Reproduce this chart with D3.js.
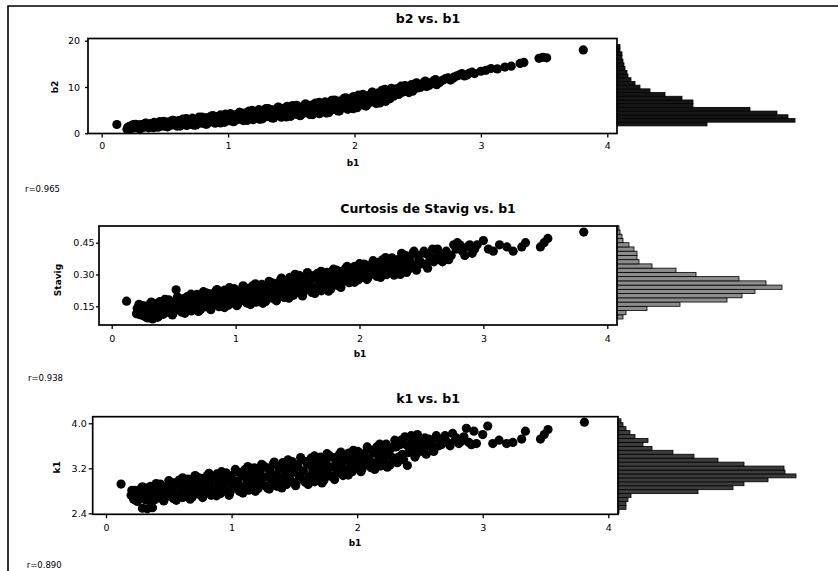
<!DOCTYPE html>
<html><head><meta charset="utf-8">
<script src="https://cdn.jsdelivr.net/npm/d3@7"></script>
<style>body{margin:0;background:#fff} svg{display:block}</style>
</head><body>
<svg id="c" width="838" height="571"></svg>
<script>
// ---------- data ----------
const b1 = [0.20,0.22,0.23,0.25,0.26,0.28,0.29,0.31,0.32,0.34,0.35,0.37,0.38,0.40,0.41,0.43,0.44,0.46,0.47,0.49,0.50,
0.52,0.53,0.55,0.56,0.58,0.59,0.61,0.62,0.64,0.65,0.67,0.68,0.70,0.71,0.73,0.74,
0.76,0.77,0.79,0.80,0.82,0.83,0.85,0.86,0.88,0.89,0.91,0.92,0.94,0.95,0.97,0.98,1.00,
1.01,1.03,1.04,1.06,1.07,1.09,1.10,1.12,1.13,1.15,1.16,1.18,1.19,1.21,1.22,1.24,
1.25,1.27,1.28,1.30,1.31,1.33,1.34,1.36,1.37,1.39,1.40,1.42,1.43,1.45,1.46,1.48,1.49,
1.51,1.52,1.54,1.55,1.57,1.58,1.60,1.61,1.63,1.64,1.66,1.67,1.69,1.70,1.72,1.73,
1.75,1.76,1.78,1.79,1.81,1.82,1.84,1.85,1.87,1.88,1.90,1.91,1.93,1.94,1.96,1.97,1.99,
2.00,2.02,2.03,2.05,2.06,2.08,2.09,2.11,2.12,2.14,2.15,2.17,2.18,2.20,2.21,2.23,2.24,
2.26,2.28,2.30,
2.32,2.34,2.36,2.38,2.40,2.42,2.44,2.46,2.48,2.50,2.53,2.55,2.57,2.60,2.63,2.65,2.68,2.72,2.76,2.79,
2.83,2.87,2.91,2.95,3.00,3.04,3.08,3.13,3.19,3.24,3.31,3.34,3.46,3.49,3.52,3.81,
0.12,0.29,0.33,0.37,0.52,
0.206,0.223,0.236,0.253,0.268,0.281,0.297,0.313,0.326,0.343,0.357,0.371,0.388,0.402,0.416,0.433,0.447,0.462,0.478,0.491,
0.507,0.521,0.538,0.552,0.566,0.583,0.597,0.611,0.628,0.642,0.656,0.673,0.687,0.702,0.718,0.731,0.746,
0.762,0.777,0.793,0.807,0.821,0.838,0.852,0.866,0.883,0.897,0.912,0.928,0.941,0.956,0.972,0.987,
1.002,1.018,1.032,1.047,1.063,1.077,1.092,1.108,1.121,1.137,1.153,1.166,1.182,1.197,1.212,1.226,1.243,
1.257,1.272,1.286,1.302,1.317,1.331,1.348,1.362,1.376,1.393,1.407,1.422,1.438,1.451,1.467,1.482,1.496,
1.513,1.527,1.542,1.558,1.571,1.587,1.602,1.616,1.633,1.647,1.661,1.678,1.692,1.707,1.723,1.736,
1.752,1.768,1.782,1.797,1.813,1.826,1.842,1.857,1.871,1.888,1.902,1.917,1.933,1.946,1.961,1.977,1.992,
2.006,2.021,2.037,2.051,2.066,2.082,2.096,2.111,2.127,2.141,2.156,2.172,2.186,2.201,2.217,2.231,2.246,
2.262,2.277,2.292,
2.31,2.33,2.35,2.37,2.39,2.41,2.43,2.45,2.47,2.49,2.52,2.54,2.56,2.59,2.61,2.64,2.67,2.70,2.74,2.78,2.81,2.85,2.89,2.93];

const b2 = [0.85,1.50,1.21,1.90,1.44,1.16,1.85,1.05,1.75,1.45,2.19,1.70,1.35,2.15,1.21,2.04,1.66,2.51,1.93,1.57,2.42,
1.40,2.29,1.90,2.82,2.19,1.76,2.73,1.57,2.58,2.11,3.17,2.43,1.96,3.02,1.76,2.85,
2.36,3.48,2.71,2.19,3.36,1.98,3.16,2.63,3.82,2.99,2.47,3.66,2.25,3.45,2.92,4.13,3.30,
2.72,4.01,2.50,3.81,3.20,4.55,3.62,3.02,4.38,2.77,4.15,3.54,4.95,3.97,3.29,4.78,
3.02,4.52,3.82,5.34,4.27,3.58,5.09,3.29,4.82,4.11,5.65,4.58,3.84,5.43,3.54,5.13,4.38,
6.00,4.86,4.12,5.73,3.80,5.42,4.68,6.32,5.16,4.37,6.07,4.05,5.74,4.95,6.67,5.44,
4.66,6.39,4.37,6.12,5.36,7.13,5.93,5.12,6.95,4.82,6.66,5.83,7.68,6.41,5.62,7.45,5.30,
7.15,6.37,8.23,7.00,6.16,8.08,5.89,7.81,6.97,8.89,7.60,6.82,8.68,6.55,8.41,7.63,9.49,
8.26,7.47,9.37,
9.2,8.6,9.9,8.9,10.3,9.4,10.0,9.1,10.6,9.8,10.4,11.0,10.1,10.8,11.4,10.5,11.2,11.8,11.5,12.2,
12.6,12.4,13.0,12.9,13.4,13.6,14.0,13.9,14.3,14.5,15.1,15.3,16.2,16.4,16.3,18.0,
1.9,1.2,1.3,1.4,2.4,
1.31,0.90,1.65,1.14,1.93,1.49,1.05,1.86,1.29,2.15,1.67,1.18,2.07,1.44,2.35,1.84,1.31,2.26,1.59,2.57,
2.02,1.43,2.47,1.74,2.81,2.20,1.56,2.68,1.89,3.04,2.37,1.70,2.89,2.03,3.27,2.55,1.82,
3.10,2.21,3.51,2.76,2.00,3.34,2.40,3.74,2.97,2.18,3.55,2.60,3.97,3.18,2.37,3.78,
2.79,4.23,3.40,2.56,4.05,3.00,4.51,3.65,2.74,4.32,3.21,4.80,3.88,2.93,4.59,3.41,5.10,
4.12,3.12,4.83,3.62,5.35,4.33,3.30,5.05,3.80,5.58,4.54,3.49,5.29,4.00,5.82,4.75,3.67,
5.52,4.20,6.06,4.96,3.86,5.73,4.39,6.28,5.17,4.04,5.96,4.59,6.53,5.38,4.22,6.18,
4.78,6.80,5.65,4.51,6.54,5.12,7.18,6.01,4.83,6.92,5.46,7.56,6.38,5.17,7.28,5.82,7.95,
6.74,5.54,7.70,6.23,8.39,7.19,5.99,8.15,6.68,8.84,7.64,6.44,8.60,7.13,9.29,8.09,6.89,
9.05,7.58,9.71,
8.0,9.6,8.4,10.2,9.0,9.8,8.8,10.5,9.5,10.9,9.9,10.7,11.3,10.3,11.0,11.6,10.9,11.5,12.0,11.9,12.4,12.9,12.6,13.2];

const stavig = [.115,.159,.127,.107,.152,.098,.143,.122,.170,.137,.113,.164,.103,.155,.129,.183,.145,.121,.173,.109,.164,
.139,.194,.155,.128,.186,.117,.175,.148,.207,.165,.138,.197,.126,.186,.158,.219,
.176,.147,.209,.134,.196,.167,.229,.185,.156,.217,.144,.205,.177,.238,.194,.165,.227,
.153,.214,.185,.247,.202,.172,.235,.158,.222,.192,.256,.210,.179,.244,.164,.230,
.199,.268,.219,.188,.258,.176,.245,.213,.283,.234,.201,.274,.188,.261,.226,.301,.249,
.215,.288,.199,.272,.238,.309,.258,.224,.295,.210,.280,.247,.315,.266,.234,.301,
.221,.288,.259,.325,.280,.249,.315,.239,.304,.276,.338,.296,.270,.329,.263,.319,.294,
.351,.312,.286,.344,.276,.334,.307,.365,.324,.298,.357,.286,.347,.319,.380,.338,.309,
.371,.297,.359,
.33,.40,.36,.31,.38,.34,.41,.32,.37,.35,.40,.33,.38,.36,.42,.37,.38,.37,.44,.45,
.41,.43,.40,.44,.46,.42,.41,.44,.43,.41,.43,.45,.43,.45,.47,.50,
.174,.095,.090,.098,.228,
.141,.111,.155,.129,.103,.149,.116,.163,.136,.107,.156,.121,.172,.142,.112,.163,.127,.180,.148,.115,
.171,.132,.189,.155,.122,.179,.139,.196,.163,.128,.188,.145,.206,.170,.135,.196,.153,
.214,.177,.142,.203,.159,.221,.184,.148,.210,.166,.227,.191,.155,.216,.173,.234,
.197,.160,.222,.177,.240,.203,.165,.228,.183,.247,.208,.169,.234,.187,.253,.213,.173,
.241,.193,.262,.222,.182,.251,.203,.274,.233,.192,.263,.213,.286,.244,.202,.275,.222,
.296,.252,.208,.282,.229,.301,.258,.215,.287,.236,.306,.264,.223,.292,.243,.310,
.270,.232,.299,.254,.321,.283,.246,.310,.267,.330,.294,.261,.321,.280,.339,.306,.275,
.331,.293,.349,.316,.284,.341,.301,.358,.325,.291,.351,.309,.369,.334,.299,.360,.318,
.379,.342,.305,
.37,.30,.35,.39,.32,.36,.40,.34,.39,.36,.41,.35,.39,.42,.38,.40,.36,.41,.39,.42,.44,.39,.44,.42];

const k1 = [2.72,2.65,2.81,2.61,2.78,2.70,2.87,2.75,2.66,2.86,2.62,2.82,2.72,2.93,2.78,2.67,2.89,2.62,2.85,2.74,2.98,
2.81,2.69,2.94,2.63,2.89,2.77,3.03,2.84,2.71,2.98,2.65,2.93,2.79,3.07,2.87,2.74,
3.02,2.68,2.96,2.82,3.11,2.90,2.77,3.05,2.71,2.99,2.86,3.14,2.93,2.80,3.08,2.72,3.02,
2.88,3.18,2.96,2.82,3.13,2.76,3.06,2.92,3.23,3.00,2.86,3.16,2.79,3.11,2.95,3.27,
3.04,2.89,3.21,2.83,3.14,2.99,3.31,3.08,2.92,3.25,2.85,3.18,3.02,3.35,3.11,2.96,3.29,
2.89,3.22,3.06,3.39,3.15,2.99,3.32,2.91,3.25,3.09,3.42,3.18,3.01,3.36,2.94,3.27,
3.12,3.46,3.22,3.06,3.39,3.00,3.32,3.17,3.49,3.26,3.12,3.43,3.08,3.36,3.24,3.52,3.32,
3.20,3.47,3.14,3.42,3.29,3.58,3.37,3.24,3.52,3.18,3.47,3.34,3.63,3.42,3.28,3.59,3.22,
3.53,3.39,3.70,
3.30,3.62,3.45,3.76,3.25,3.55,3.68,3.40,3.80,3.50,3.62,3.45,3.72,3.56,3.78,3.60,3.70,3.66,3.82,3.74,
3.68,3.91,3.62,3.64,3.80,3.95,3.64,3.70,3.64,3.66,3.72,3.86,3.72,3.80,3.89,4.02,
2.92,2.49,2.48,2.50,2.95,
2.81,2.73,2.63,2.79,2.68,2.85,2.75,2.64,2.82,2.69,2.88,2.77,2.64,2.85,2.70,2.92,2.79,2.65,2.88,2.71,
2.95,2.81,2.66,2.91,2.73,2.99,2.83,2.68,2.94,2.75,3.01,2.86,2.69,2.96,2.77,3.04,2.88,
2.71,2.99,2.79,3.07,2.90,2.72,3.02,2.80,3.10,2.92,2.75,3.04,2.82,3.12,2.94,2.77,
3.06,2.85,3.14,2.97,2.79,3.09,2.87,3.18,2.99,2.81,3.12,2.90,3.21,3.02,2.84,3.15,2.92,
3.24,3.05,2.85,3.18,2.94,3.27,3.07,2.88,3.21,2.97,3.30,3.10,2.91,3.23,3.00,3.32,3.13,
2.93,3.26,3.02,3.35,3.15,2.95,3.28,3.04,3.38,3.17,2.96,3.30,3.06,3.40,3.19,2.99,
3.33,3.09,3.42,3.22,3.03,3.36,3.12,3.44,3.26,3.07,3.38,3.17,3.47,3.30,3.14,3.42,3.23,
3.50,3.34,3.18,3.45,3.26,3.54,3.38,3.21,3.50,3.29,3.58,3.41,3.24,3.53,3.32,3.63,3.45,
3.26,3.57,3.36,
3.58,3.40,3.70,3.35,3.62,3.48,3.78,3.58,3.45,3.66,3.52,3.74,3.60,3.67,3.50,3.74,3.62,3.78,3.60,3.70,3.64,3.76,3.66,3.86];

// marginal histograms of the vertical variable: bin start, bin width, bar counts (bottom to top)
const b2HistStart = 1.6, b2HistWidth = 0.8;
const b2HistCounts = [90,178,171,160,133,76,76,65,48,33,23,18,14,11,10,8,7,6,5,5,3,3];
const stavigHistStart = 0.09, stavigHistWidth = 0.02;
const stavigHistCounts = [6,9,30,63,110,125,138,165,149,122,79,59,35,22,20,20,17,12,6,5,3,2];
const k1HistStart = 2.40, k1HistWidth = 0.07;
const k1HistCounts = [1,8,8,10,13,80,115,126,150,178,167,166,126,100,76,55,34,25,30,17,12,8,5,3];

const titles = ["b2 vs. b1", "Curtosis de Stavig vs. b1", "k1 vs. b1"];
const yNames = ["b2", "Stavig", "k1"];
const xTicks = [0, 1, 2, 3, 4];
const yTickSets = [[0, 10, 20], [0.15, 0.30, 0.45], [2.4, 3.2, 4.0]];
const rLabels = ["r=0.965", "r=0.938", "r=0.890"];

// ---------- layout ----------
const panels = [
  { y: b2, hist: b2HistCounts, hs: b2HistStart, hw: b2HistWidth,
    box: {l: 88, t: 38.5, r: 617, b: 133.5}, xr: [101.7, 607.3],
    yd: [0, 20], yr: [133.3, 40.7], fmt: d3.format("d"), ytsize: 3, ytpad: 5, xtpad: 5,
    titleY: 18.3, yLab: [55, 87], xLab: [353, 162.7], rPos: [25, 189], histFill: "#161616" },
  { y: stavig, hist: stavigHistCounts, hs: stavigHistStart, hw: stavigHistWidth,
    box: {l: 99, t: 226, r: 617, b: 325}, xr: [111.7, 607.3],
    yd: [0.15, 0.45], yr: [306.3, 242.7], fmt: d3.format(".2f"), ytsize: 3, ytpad: 1.5, xtpad: 6,
    titleY: 208.3, yLab: [58.3, 280], xLab: [360, 354], rPos: [28, 377.7], histFill: "#8c8c8c" },
  { y: k1, hist: k1HistCounts, hs: k1HistStart, hw: k1HistWidth,
    box: {l: 92.7, t: 416.7, r: 618, b: 514.3}, xr: [106, 608.3],
    yd: [2.4, 4.0], yr: [513.3, 423.3], fmt: d3.format(".1f"), ytsize: 4, ytpad: 2, xtpad: 6,
    titleY: 398.3, yLab: [56.7, 467.3], xLab: [355, 542.7], rPos: [26.7, 565], histFill: "#3c3c3c" }
];

const svg = d3.select("#c");
const FONT = "DejaVu Sans, Verdana, sans-serif";

// outer frame (left and top rules)
svg.append("path").attr("d", "M8,571V6H838").attr("fill", "none").attr("stroke", "#000").attr("stroke-width", 1.6);

panels.forEach((p, i) => {
  const g = svg.append("g");
  const x = d3.scaleLinear().domain([0, 4]).range(p.xr);
  const y = d3.scaleLinear().domain(p.yd).range(p.yr);
  const bx = p.box;

  g.append("text").attr("x", 428).attr("y", p.titleY).attr("dy", "0.35em")
    .attr("text-anchor", "middle").attr("font-family", FONT).attr("font-weight", "bold")
    .attr("font-size", 12.5).text(titles[i]);

  const cid = "clip" + i;
  svg.append("clipPath").attr("id", cid).append("rect")
    .attr("x", bx.l).attr("y", bx.t).attr("width", bx.r - bx.l).attr("height", bx.b - bx.t);

  g.append("g").attr("clip-path", `url(#${cid})`).selectAll("circle")
    .data(b1.map((v, j) => [v, p.y[j]]))
    .join("circle")
    .attr("cx", d => x(d[0])).attr("cy", d => y(d[1])).attr("r", 4.6).attr("fill", "#000");

  const hx = d3.scaleLinear().domain([0, 178]).range([0, 178]);
  g.append("g").selectAll("rect").data(p.hist).join("rect")
    .attr("x", bx.r)
    .attr("y", (c, k) => y(p.hs + (k + 1) * p.hw))
    .attr("width", c => hx(c))
    .attr("height", (c, k) => y(p.hs + k * p.hw) - y(p.hs + (k + 1) * p.hw))
    .attr("fill", p.histFill).attr("stroke", "#000").attr("stroke-width", 0.8);

  g.append("rect").attr("x", bx.l).attr("y", bx.t).attr("width", bx.r - bx.l).attr("height", bx.b - bx.t)
    .attr("fill", "none").attr("stroke", "#000").attr("stroke-width", 1.7);

  const xa = g.append("g").attr("transform", `translate(0,${bx.b})`)
    .call(d3.axisBottom(x).tickValues(xTicks).tickFormat(d3.format("d")).tickSize(4).tickPadding(p.xtpad));
  xa.select(".domain").remove();
  xa.selectAll("line").attr("stroke", "#000").attr("stroke-width", 1.3);
  xa.selectAll("text").attr("font-family", FONT).attr("font-size", 9.5).attr("fill", "#000");

  const ya = g.append("g").attr("transform", `translate(${bx.l},0)`)
    .call(d3.axisLeft(y).tickValues(yTickSets[i]).tickFormat(p.fmt).tickSize(p.ytsize).tickPadding(p.ytpad));
  ya.select(".domain").remove();
  ya.selectAll("line").attr("stroke", "#000").attr("stroke-width", 1.3);
  ya.selectAll("text").attr("font-family", FONT).attr("font-size", 9.5).attr("fill", "#000");

  g.append("text").attr("transform", `translate(${p.yLab[0]},${p.yLab[1]}) rotate(-90)`)
    .attr("text-anchor", "middle").attr("dy", "0.35em").attr("font-family", FONT)
    .attr("font-weight", "bold").attr("font-size", 9).text(yNames[i]);
  g.append("text").attr("x", p.xLab[0]).attr("y", p.xLab[1]).attr("dy", "0.35em")
    .attr("text-anchor", "middle").attr("font-family", FONT).attr("font-weight", "bold")
    .attr("font-size", 9).text("b1");

  g.append("text").attr("x", p.rPos[0]).attr("y", p.rPos[1]).attr("dy", "0.35em")
    .attr("font-family", FONT).attr("font-size", 8.5).text(rLabels[i]);
});
</script>
</body></html>
